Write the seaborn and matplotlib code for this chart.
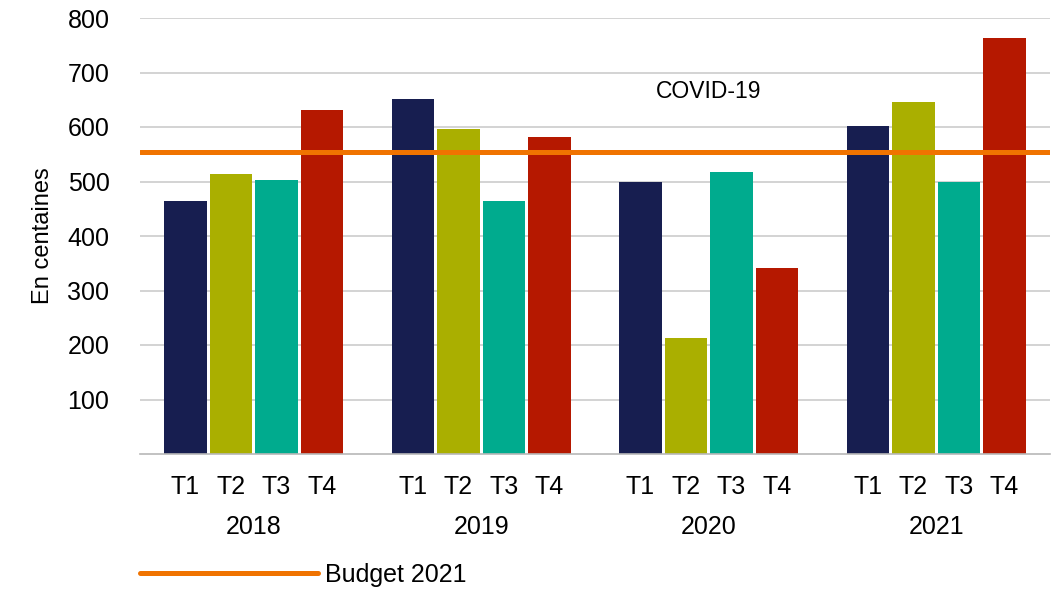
import pandas as pd
import matplotlib
matplotlib.use("Agg")
import matplotlib.pyplot as plt
import seaborn as sns

years = ["2018", "2019", "2020", "2021"]
quarters = ["T1", "T2", "T3", "T4"]
values_2018 = [464, 514, 503, 631]
values_2019 = [651, 596, 464, 581]
values_2020 = [499, 213, 518, 342]
values_2021 = [601, 645, 499, 763]
budget_2021 = 554
colors = ["#171E50", "#AAAF00", "#00AB8E", "#B51800"]

rows = []
for year, vals in zip(years, [values_2018, values_2019, values_2020, values_2021]):
    for q, v in zip(quarters, vals):
        rows.append({"annee": year, "trimestre": q, "valeur": v})
data = pd.DataFrame(rows)

sns.set_style("white")
plt.rcParams["font.family"] = ["Liberation Sans", "DejaVu Sans"]
plt.rcParams["text.color"] = "black"
plt.rcParams["axes.labelcolor"] = "black"
plt.rcParams["xtick.color"] = "black"
plt.rcParams["ytick.color"] = "black"

fig = plt.figure(figsize=(10.57, 5.91), dpi=100)
ax = fig.add_axes([140 / 1057, 1 - 454 / 591, 910 / 1057, 436 / 591])

sns.barplot(data=data, x="annee", y="valeur", hue="trimestre", palette=colors,
            order=years, hue_order=quarters, width=0.8, gap=0.07,
            saturation=1, linewidth=0, legend=False, ax=ax)

ax.axhline(budget_2021, color="#F07300", lw=3.6, zorder=5, label="Budget 2021")

ax.set_ylim(0, 800)
ax.set_xlim(-0.5, 3.5)
ax.set_yticks(range(100, 801, 100))
ax.yaxis.grid(True, color="#c8c8c8", lw=1.1)
ax.set_axisbelow(True)
for s in ["top", "right", "left"]:
    ax.spines[s].set_visible(False)
ax.spines["bottom"].set_color("#b8b8b8")
ax.spines["bottom"].set_linewidth(1.2)
ax.tick_params(axis="y", length=0, pad=22, labelsize=18)
ax.tick_params(axis="x", length=0, pad=15, labelsize=18)

# quarter labels under each bar, year labels under each group
centers = sorted(p.get_x() + p.get_width() / 2 for p in ax.patches)
ax.set_xticks(centers)
ax.set_xticklabels(quarters * len(years))
for i, year in enumerate(years):
    ax.text(i, -73 / 436, year, transform=ax.get_xaxis_transform(),
            ha="center", va="center", fontsize=18)

ax.set_xlabel("")
ax.set_ylabel("En centaines", fontsize=17, labelpad=10)

ax.text(2, 665, "COVID-19", ha="center", va="center", fontsize=16.5)

fig.legend(loc="center left", bbox_to_anchor=(140 / 1057, 1 - 575 / 591),
           frameon=False, fontsize=18, handlelength=7.1, handletextpad=0.3,
           borderpad=0, borderaxespad=0)

fig.savefig("out.png", dpi=100)
